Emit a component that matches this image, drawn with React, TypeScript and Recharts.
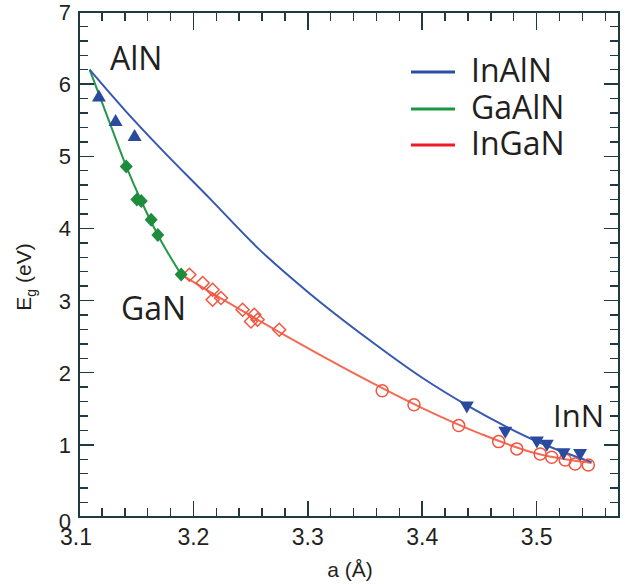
import React from 'react';
import { ComposedChart, XAxis, YAxis, Line, Scatter, Customized } from 'recharts';

// ---- axis ranges and tick values ----
const xDomain = [3.1, 3.572];
const yDomain = [0, 7];
const xMajorTicks = [3.1, 3.2, 3.3, 3.4, 3.5];
const xTicks = [3.1, 3.12, 3.14, 3.16, 3.18, 3.2, 3.22, 3.24, 3.26, 3.28, 3.3, 3.32, 3.34, 3.36, 3.38, 3.4, 3.42, 3.44, 3.46, 3.48, 3.5, 3.52, 3.54, 3.56];
const yMajorTicks = [0, 1, 2, 3, 4, 5, 6, 7];
const yTicks = [0, 0.2, 0.4, 0.6, 0.8, 1, 1.2, 1.4, 1.6, 1.8, 2, 2.2, 2.4, 2.6, 2.8, 3, 3.2, 3.4, 3.6, 3.8, 4, 4.2, 4.4, 4.6, 4.8, 5, 5.2, 5.4, 5.6, 5.8, 6, 6.2, 6.4, 6.6, 6.8, 7];

// ---- legend ----
const seriesNames = ['InAlN', 'GaAlN', 'InGaN'];
const legendColors = ['#2b4fa0', '#1a9641', '#ed1c24'];

// ---- fitted curves (a in Å, Eg in eV) ----
const inAlNCurveA = [3.1093, 3.14, 3.17, 3.214, 3.2575, 3.30, 3.3533, 3.40, 3.44, 3.47, 3.50, 3.525, 3.548];
const inAlNCurveE = [6.20, 5.64, 5.13, 4.42, 3.71, 3.12, 2.46, 1.93, 1.54, 1.28, 1.05, 0.89, 0.76];
const gaAlNCurveA = [3.1093, 3.1253, 3.1413, 3.1544, 3.1689, 3.18, 3.1893];
const gaAlNCurveE = [6.20, 5.53, 4.86, 4.38, 3.91, 3.60, 3.36];
const inGaNCurveA = [3.1893, 3.22, 3.25, 3.30, 3.35, 3.40, 3.45, 3.50, 3.525, 3.548];
const inGaNCurveE = [3.36, 3.07, 2.79, 2.34, 1.91, 1.51, 1.16, 0.88, 0.80, 0.75];

// ---- data points ----
const inAlNUpA = [3.1174, 3.132, 3.1486];
const inAlNUpE = [5.83, 5.49, 5.28];
const inAlNDownA = [3.439, 3.4726, 3.5002, 3.5089, 3.5235, 3.538];
const inAlNDownE = [1.53, 1.18, 1.045, 1.0, 0.884, 0.875];
const gaAlNPtsA = [3.1413, 3.1506, 3.1544, 3.1631, 3.1689, 3.1893];
const gaAlNPtsE = [4.86, 4.40, 4.38, 4.12, 3.91, 3.36];
const inGaNDiamA = [3.1965, 3.2081, 3.2168, 3.2168, 3.2241, 3.243, 3.2503, 3.2532, 3.2561, 3.275];
const inGaNDiamE = [3.358, 3.243, 3.15, 3.011, 3.035, 2.873, 2.71, 2.803, 2.734, 2.595];
const inGaNCircA = [3.365, 3.3928, 3.4319, 3.4668, 3.4827, 3.5031, 3.5132, 3.525, 3.5337, 3.5452];
const inGaNCircE = [1.75, 1.555, 1.267, 1.045, 0.944, 0.874, 0.828, 0.79, 0.735, 0.72];

const zip = (a: number[], e: number[]) => a.map((x, i) => ({ x, y: e[i] }));

const AXIS = '#1f3a40';
const TXT = '#231f20';
const NUMFONT = 'Liberation Sans, Arial, sans-serif';

// chart layout (plot box derived from margins and axis sizes)
const W = 626, H = 584;
const M = { top: 12, right: 7, bottom: 0, left: 0 };
const XAXIS_H = 67, YAXIS_W = 79;
const PL = M.left + YAXIS_W, PR = W - M.right, PT = M.top, PB = H - M.bottom - XAXIS_H;
const sx = (v: number) => PL + ((v - xDomain[0]) / (xDomain[1] - xDomain[0])) * (PR - PL);
const sy = (v: number) => PB - ((v - yDomain[0]) / (yDomain[1] - yDomain[0])) * (PB - PT);

const BottomTick = (p: any) => {
  const { x, y, payload } = p;
  const major = xMajorTicks.includes(payload.value);
  if (!major) return <g />;
  return (
    <text x={x - (payload.value === 3.1 ? 3 : 0)} y={y + 28} textAnchor="middle" fontSize={23} fill={TXT} fontFamily={NUMFONT}>
      {payload.value.toFixed(1)}
    </text>
  );
};
const LeftTick = (p: any) => {
  const { x, y, payload } = p;
  const major = yMajorTicks.includes(payload.value);
  if (!major) return <g />;
  return (
    <text x={x - 8} y={y + (payload.value === 0 ? 12 : 8)} textAnchor="end" fontSize={22} fill={TXT} fontFamily={NUMFONT}>
      {payload.value}
    </text>
  );
};

const TriUp = (p: any) => {
  const { cx, cy } = p;
  return <polygon points={`${cx},${cy - 7} ${cx + 7},${cy + 5} ${cx - 7},${cy + 5}`} fill="#2a4a9e" />;
};
const TriDown = (p: any) => {
  const { cx, cy } = p;
  return <polygon points={`${cx},${cy + 7} ${cx + 7},${cy - 5} ${cx - 7},${cy - 5}`} fill="#2a4a9e" />;
};
const DiamFilled = (p: any) => {
  const { cx, cy } = p;
  return <polygon points={`${cx},${cy - 7} ${cx + 6.5},${cy} ${cx},${cy + 7} ${cx - 6.5},${cy}`} fill="#1e8c3c" />;
};
const DiamOpen = (p: any) => {
  const { cx, cy } = p;
  return <polygon points={`${cx},${cy - 6.5} ${cx + 6.5},${cy} ${cx},${cy + 6.5} ${cx - 6.5},${cy}`} fill="none" stroke="#f2553f" strokeWidth={1.5} />;
};
const CircOpen = (p: any) => {
  const { cx, cy } = p;
  return <circle cx={cx} cy={cy} r={6} fill="none" stroke="#f2553f" strokeWidth={1.5} />;
};

// HTML frame with inward ticks, placed over the plot box
const box = (l: number, t: number, w: number, h: number, k: string) => (
  <div key={k} style={{ position: 'absolute', left: l, top: t, width: w, height: h, background: AXIS }} />
);
const HtmlFrame = () => {
  const els: any[] = [];
  els.push(box(PL - 1, PT - 1, PR - PL + 2, 2, 'ft'));
  els.push(box(PL - 1, PB - 1, PR - PL + 2, 2, 'fb'));
  els.push(box(PL - 1, PT - 1, 2, PB - PT + 2, 'fl'));
  els.push(box(PR - 1, PT - 1, 2, PB - PT + 2, 'fr'));
  xTicks.forEach((v) => {
    const major = xMajorTicks.includes(v);
    const x = sx(v);
    els.push(box(x - 0.75, PB - (major ? 16 : 9), 1.5, major ? 16 : 9, 'xb' + v));
    els.push(box(x - 0.75, PT, 1.5, major ? 18 : 9, 'xt' + v));
  });
  yTicks.forEach((v) => {
    const major = yMajorTicks.includes(v);
    const y = sy(v);
    els.push(box(PL, y - 0.75, major ? 15 : 9, 1.5, 'yl' + v));
    els.push(box(PR - (major ? 15 : 9), y - 0.75, major ? 15 : 9, 1.5, 'yr' + v));
  });
  return <div style={{ position: 'absolute', left: 0, top: 0, width: W, height: H, pointerEvents: 'none' }}>{els}</div>;
};

const Overlay = () => {
  const f = 'Open Sans, sans-serif';
  const legY = [72, 109, 145];
  return (
    <g>
      <text x={110} y={70} fontSize={32} fill={TXT} fontFamily={f}>AlN</text>
      <text x={121} y={320} fontSize={32} fill={TXT} fontFamily={f}>GaN</text>
      <text x={553} y={427} fontSize={31} fill={TXT} fontFamily={f}>InN</text>
      {seriesNames.map((n, i) => (
        <g key={n}>
          <line x1={411} x2={455} y1={legY[i]} y2={legY[i]} stroke={legendColors[i]} strokeWidth={3} />
          <text x={471} y={legY[i] + 10} fontSize={32} fill={TXT} fontFamily={f}>{n}</text>
        </g>
      ))}
      <text transform="translate(31,277) rotate(-90)" textAnchor="middle" fontSize={21} fill={TXT} fontFamily={NUMFONT}>
        E<tspan dy={5} fontSize={14}>g</tspan><tspan dy={-5}> (eV)</tspan>
      </text>
      <text x={350} y={577} textAnchor="middle" fontSize={21} fill={TXT} fontFamily={NUMFONT}>a (Å)</text>
    </g>
  );
};

export default function App() {
  return (
    <div style={{ position: 'absolute', left: 0, top: 0, width: W, height: H }}>
      <ComposedChart width={W} height={H} margin={M}>
        <XAxis xAxisId="b" type="number" dataKey="x" domain={xDomain} ticks={xTicks} interval={0}
          allowDataOverflow height={XAXIS_H} tickSize={0} tickMargin={0} axisLine={false}
          tick={<BottomTick />} />
        <YAxis yAxisId="l" type="number" dataKey="y" domain={yDomain} ticks={yTicks} interval={0}
          allowDataOverflow width={YAXIS_W} tickSize={0} tickMargin={0} axisLine={false}
          tick={<LeftTick />} />

        <Line xAxisId="b" yAxisId="l" data={zip(inGaNCurveA, inGaNCurveE)} dataKey="y" type="monotone" stroke="#f36a55" strokeWidth={2} dot={false} isAnimationActive={false} />
        <Line xAxisId="b" yAxisId="l" data={zip(gaAlNCurveA, gaAlNCurveE)} dataKey="y" type="monotone" stroke="#23994a" strokeWidth={2} dot={false} isAnimationActive={false} />
        <Line xAxisId="b" yAxisId="l" data={zip(inAlNCurveA, inAlNCurveE)} dataKey="y" type="monotone" stroke="#3558b0" strokeWidth={2} dot={false} isAnimationActive={false} />

        <Scatter xAxisId="b" yAxisId="l" data={zip(inGaNDiamA, inGaNDiamE)} shape={DiamOpen} isAnimationActive={false} />
        <Scatter xAxisId="b" yAxisId="l" data={zip(inGaNCircA, inGaNCircE)} shape={CircOpen} isAnimationActive={false} />
        <Scatter xAxisId="b" yAxisId="l" data={zip(gaAlNPtsA, gaAlNPtsE)} shape={DiamFilled} isAnimationActive={false} />
        <Scatter xAxisId="b" yAxisId="l" data={zip(inAlNUpA, inAlNUpE)} shape={TriUp} isAnimationActive={false} />
        <Scatter xAxisId="b" yAxisId="l" data={zip(inAlNDownA, inAlNDownE)} shape={TriDown} isAnimationActive={false} />

        <Customized component={<Overlay />} />
      </ComposedChart>
      <HtmlFrame />
    </div>
  );
}
